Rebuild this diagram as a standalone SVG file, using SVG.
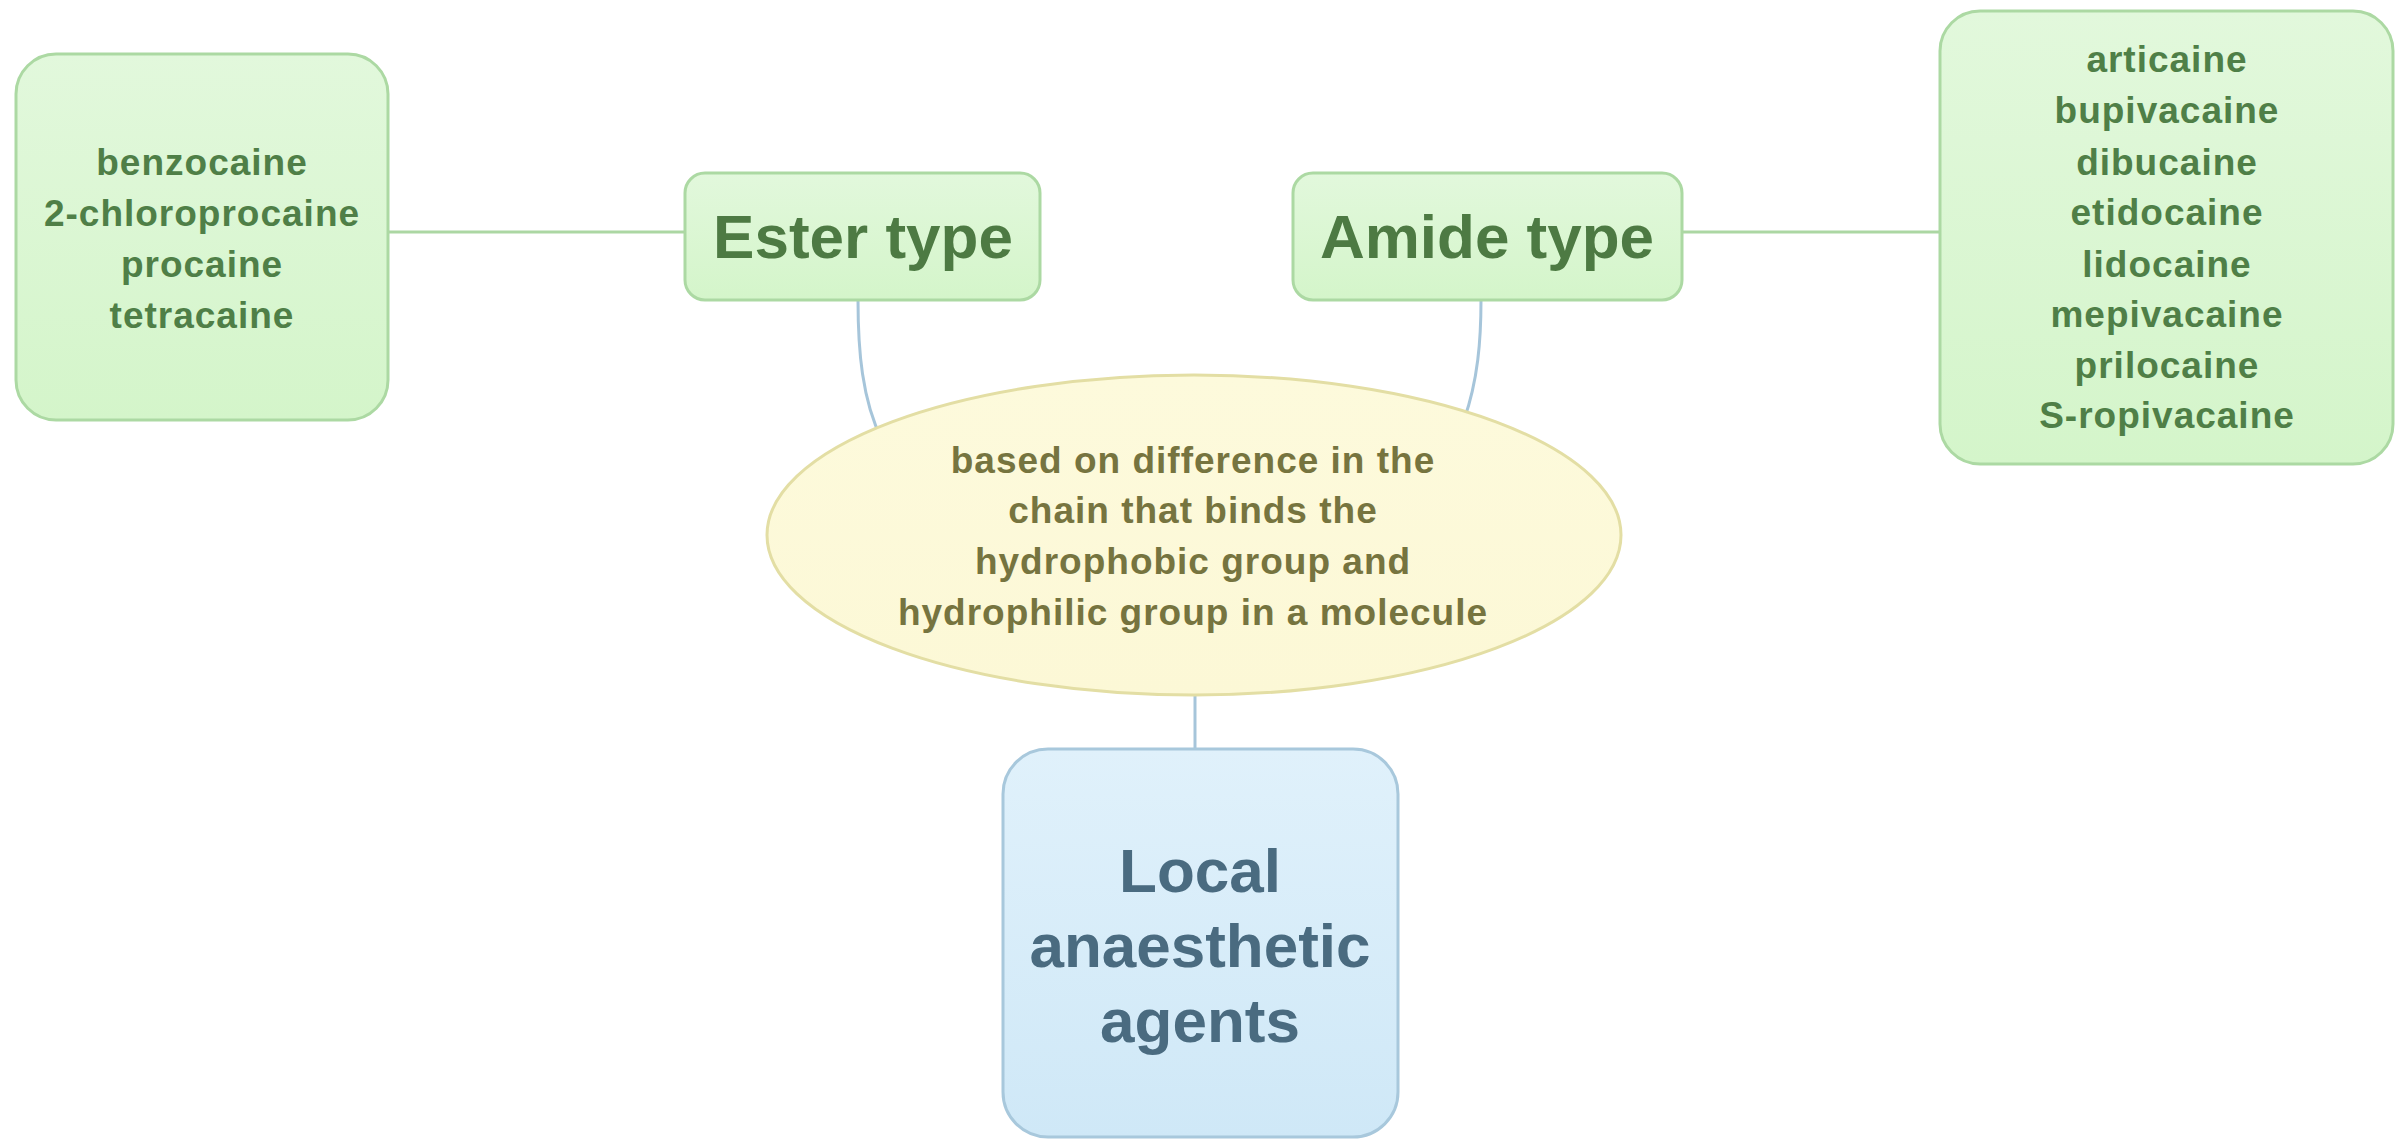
<svg xmlns="http://www.w3.org/2000/svg" width="2397" height="1139" viewBox="0 0 2397 1139">
<defs>
<linearGradient id="gGreen" x1="0" y1="0" x2="0" y2="1"><stop offset="0" stop-color="#e2f8dc"/><stop offset="1" stop-color="#d4f5ca"/></linearGradient>
<linearGradient id="gBlue" x1="0" y1="0" x2="0" y2="1"><stop offset="0" stop-color="#e0f1fb"/><stop offset="1" stop-color="#cfe8f7"/></linearGradient>
<linearGradient id="gYellow" x1="0" y1="0" x2="0" y2="1"><stop offset="0" stop-color="#fdfadc"/><stop offset="1" stop-color="#fcf8d6"/></linearGradient>
</defs>
<style>
.gbox{fill:url(#gGreen);stroke:#acd9a3;stroke-width:3}
.bbox{fill:url(#gBlue);stroke:#a8c8dc;stroke-width:3}
.ell{fill:url(#gYellow);stroke:#e3dea4;stroke-width:3}
.gline{fill:none;stroke:#acd7a3;stroke-width:3}
.bline{fill:none;stroke:#a6c5da;stroke-width:3}
text{font-family:"Liberation Sans",Arial,Helvetica,sans-serif;font-weight:bold;text-anchor:middle}
.item{font-size:37px;fill:#4f7f47;letter-spacing:1px}
.type{font-size:62px;fill:#4d7a43}
.desc{font-size:37px;fill:#76743f;letter-spacing:1px}
.root{font-size:62px;fill:#4a6b80}
</style>
<g id="connectors">
<path class="gline" d="M388 232 L685 232"/>
<path class="gline" d="M1682 232 L1940 232"/>
<path class="bline" d="M858 300 C858 350 862 400 882 440"/>
<path class="bline" d="M1481 300 C1481 340 1478 380 1464 420"/>
<path class="bline" d="M1195 690 L1195 749"/>
</g>
<g id="ester-examples">
<rect class="gbox" x="16" y="54" width="372" height="366" rx="40"/>
<text class="item" x="202" y="175">benzocaine</text>
<text class="item" x="202" y="226">2-chloroprocaine</text>
<text class="item" x="202" y="277">procaine</text>
<text class="item" x="202" y="328">tetracaine</text>
</g>
<g id="ester-type">
<rect class="gbox" x="685" y="173" width="355" height="127" rx="20"/>
<text class="type" x="863" y="258">Ester type</text>
</g>
<g id="amide-type">
<rect class="gbox" x="1293" y="173" width="389" height="127" rx="20"/>
<text class="type" x="1487" y="258">Amide type</text>
</g>
<g id="amide-examples">
<rect class="gbox" x="1940" y="11" width="453" height="453" rx="40"/>
<text class="item" x="2167" y="72">articaine</text>
<text class="item" x="2167" y="123">bupivacaine</text>
<text class="item" x="2167" y="175">dibucaine</text>
<text class="item" x="2167" y="225">etidocaine</text>
<text class="item" x="2167" y="277">lidocaine</text>
<text class="item" x="2167" y="327">mepivacaine</text>
<text class="item" x="2167" y="378">prilocaine</text>
<text class="item" x="2167" y="428">S-ropivacaine</text>
</g>
<g id="classification">
<ellipse class="ell" cx="1194" cy="535" rx="427" ry="160"/>
<text class="desc" x="1193" y="473">based on difference in the</text>
<text class="desc" x="1193" y="523">chain that binds the</text>
<text class="desc" x="1193" y="574">hydrophobic group and</text>
<text class="desc" x="1193" y="625">hydrophilic group in a molecule</text>
</g>
<g id="local-anaesthetic-agents">
<rect class="bbox" x="1003" y="749" width="395" height="388" rx="45"/>
<text class="root" x="1200" y="892">Local</text>
<text class="root" x="1200" y="967">anaesthetic</text>
<text class="root" x="1200" y="1042">agents</text>
</g>
</svg>
